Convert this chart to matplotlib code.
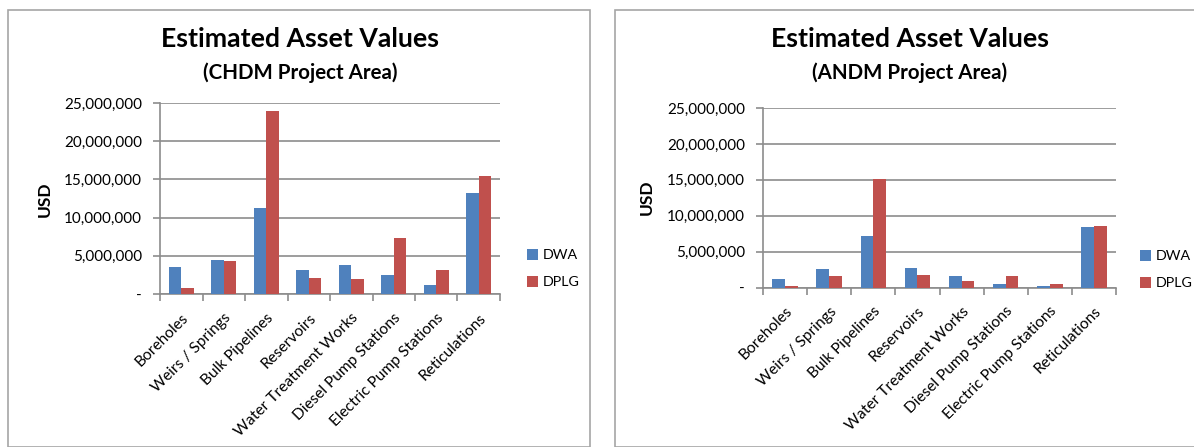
import matplotlib.pyplot as plt
from matplotlib.patches import Rectangle
from matplotlib.ticker import FuncFormatter, FixedLocator

plt.rcParams['font.family'] = ['Lato', 'DejaVu Sans']

categories = ['Boreholes', 'Weirs / Springs', 'Bulk Pipelines', 'Reservoirs',
              'Water Treatment Works', 'Diesel Pump Stations',
              'Electric Pump Stations', 'Reticulations']

chdm_dwa = [3.57e6, 4.49e6, 11.28e6, 3.18e6, 3.83e6, 2.53e6, 1.22e6, 13.24e6]
chdm_dplg = [0.83e6, 4.36e6, 23.95e6, 2.13e6, 2.00e6, 7.36e6, 3.18e6, 15.46e6]

andm_dwa = [1.16e6, 2.56e6, 7.17e6, 2.70e6, 1.58e6, 0.47e6, 0.14e6, 8.43e6]
andm_dplg = [0.19e6, 1.58e6, 15.08e6, 1.72e6, 0.88e6, 1.58e6, 0.47e6, 8.57e6]

series_names = ['DWA', 'DPLG']
colors = ['#4F81BD', '#C0504D']
grid_color = '#8C8C8C'

W, H = 1194, 447


def usd(v, pos):
    return '-' if v == 0 else f'{v:,.0f}'


def draw_chart(fig, rect, dwa, dplg, subtitle, panel, title_x, usd_xy, legend_xy):
    # panel border
    fig.patches.append(Rectangle((panel[0] / W, 0), (panel[1] - panel[0]) / W, 1 - 10 / H,
                                 transform=fig.transFigure, fill=False,
                                 edgecolor='#A6A6A6', linewidth=1.2))

    ax = fig.add_axes([rect[0] / W, 1 - rect[3] / H, (rect[1] - rect[0]) / W,
                       (rect[3] - rect[2]) / H])
    x = range(len(categories))
    bw = 0.29
    b1 = ax.bar([i - bw / 2 for i in x], dwa, width=bw, color=colors[0], zorder=3)
    b2 = ax.bar([i + bw / 2 for i in x], dplg, width=bw, color=colors[1], zorder=3)

    ax.set_xlim(-0.5, len(categories) - 0.5)
    ax.set_ylim(0, 25e6)
    ax.set_yticks([0, 5e6, 10e6, 15e6, 20e6, 25e6])
    ax.yaxis.set_major_formatter(FuncFormatter(usd))
    ax.grid(axis='y', color=grid_color, linewidth=1.2, zorder=0)
    ax.set_axisbelow(True)

    ax.xaxis.set_major_locator(FixedLocator([i - 0.5 for i in range(len(categories) + 1)]))
    ax.xaxis.set_major_formatter(FuncFormatter(lambda v, p: ''))
    ax.xaxis.set_minor_locator(FixedLocator(list(x)))
    ax.set_xticklabels(categories, minor=True, rotation=45, ha='right',
                       rotation_mode='anchor', fontsize=11.2)
    ax.tick_params(axis='x', which='major', length=5, color=grid_color, width=1.2)
    ax.tick_params(axis='x', which='minor', length=0, pad=12)
    ax.tick_params(axis='y', length=5, color=grid_color, width=1.2, labelsize=11, pad=8)

    for s in ['top', 'right']:
        ax.spines[s].set_visible(False)
    for s in ['left', 'bottom']:
        ax.spines[s].set_color(grid_color)
        ax.spines[s].set_linewidth(1.2)

    fig.text(title_x / W, 1 - 39 / H, 'Estimated Asset Values', ha='center', va='center',
             fontsize=19.2, fontweight='bold')
    fig.text(title_x / W, 1 - 73 / H, subtitle, ha='center', va='center',
             fontsize=14.8, fontweight='bold')
    fig.text(usd_xy[0] / W, 1 - usd_xy[1] / H, 'USD', rotation=90,
             ha='center', va='center', fontsize=12.5, fontweight='bold')

    fig.legend([b1, b2], series_names, loc='center left',
               bbox_to_anchor=(legend_xy[0] / W, 1 - legend_xy[1] / H),
               frameon=False, fontsize=10.3, handlelength=0.8, handleheight=0.8,
               handletextpad=0.3, labelspacing=1.0, borderpad=0, borderaxespad=0)


fig = plt.figure(figsize=(W / 100, H / 100), dpi=100)

draw_chart(fig, (160, 500, 103, 294), chdm_dwa, chdm_dplg, '(CHDM Project Area)',
           (8, 590), 300, (45, 199), (527, 268.5))
draw_chart(fig, (763, 1116, 108, 287.5), andm_dwa, andm_dplg, '(ANDM Project Area)',
           (615, 1260), 910, (647, 197), (1140, 269.5))

fig.savefig('out.png', dpi=100)
